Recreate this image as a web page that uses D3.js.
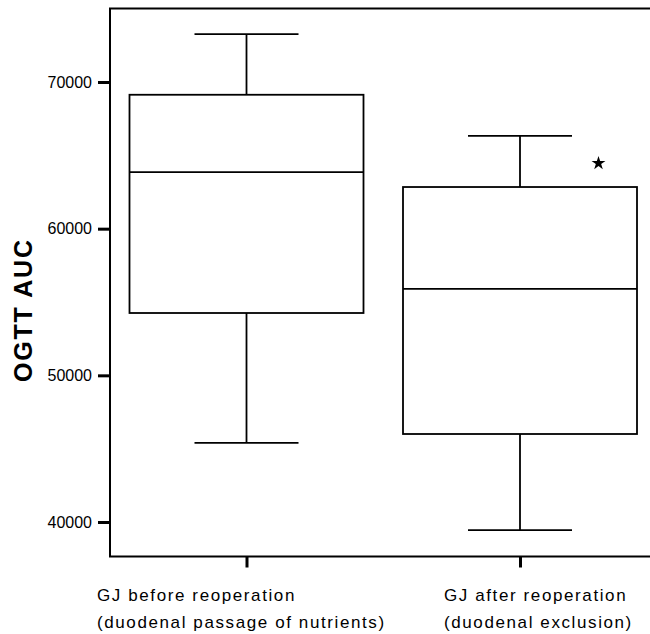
<!DOCTYPE html>
<html>
<head>
<meta charset="UTF-8">
<title>OGTT AUC boxplot</title>
<style>
  body { margin: 0; background: #fff; }
  svg { display: block; }
</style>
</head>
<body>
<script src="https://cdn.jsdelivr.net/npm/d3@7"></script>
<script>
// groups (two label lines each)
const groups = ["before", "after"];
const labelLines = [
  ["GJ before reoperation", "(duodenal passage of nutrients)"],
  ["GJ after reoperation", "(duodenal exclusion)"]
];
// box stats
const lowWhisker = [45400, 39450];
const q1 = [54250, 46000];
const median = [63860, 55890];
const q3 = [69130, 62840];
const highWhisker = [73270, 66320];
// outliers (group index, value)
const outliers = [[1, 64460]];
const yTicks = [40000, 50000, 60000, 70000];

const W = 650, H = 634;
const plotLeft = 110, plotTop = 8.5, plotBottom = 556.5;

const svg = d3.select("body").append("svg")
  .attr("width", W)
  .attr("height", H);

const y = d3.scaleLinear().domain([40000, 70000]).range([522, 82]);
const x = d3.scalePoint().domain(groups).range([246.5, 520]);
const boxW = 234, capW = 104;

// frame (open on the right)
svg.append("path")
  .attr("d", `M${W},${plotTop}H${plotLeft}V${plotBottom}H${W}`)
  .attr("fill", "none")
  .attr("stroke", "#000")
  .attr("stroke-width", 2);

// y axis
const yAxis = d3.axisLeft(y).tickValues(yTicks).tickSize(12).tickPadding(6).tickFormat(d3.format("d"));
const ga = svg.append("g").attr("transform", `translate(${plotLeft},0)`).call(yAxis);
ga.select(".domain").remove();
ga.selectAll(".tick line").attr("stroke-width", 3);
ga.selectAll(".tick text")
  .attr("font-family", "Liberation Sans, Arial, sans-serif")
  .attr("font-size", 16)
  .attr("fill", "#000");

// x axis ticks + two-line labels
const xAxis = d3.axisBottom(x).tickSize(11).tickFormat("");
const gx = svg.append("g").attr("transform", `translate(0,${plotBottom})`).call(xAxis);
gx.select(".domain").remove();
gx.selectAll(".tick line").attr("stroke-width", 3);

const labelOffset = [-149.5, -76];
const lab = svg.append("g")
  .attr("font-family", "Liberation Sans, Arial, sans-serif")
  .attr("font-size", 17)
  .attr("letter-spacing", 1.6)
  .attr("fill", "#000");
groups.forEach((g, i) => {
  labelLines[i].forEach((line, j) => {
    lab.append("text")
      .attr("x", x(g) + labelOffset[i])
      .attr("y", 601 + j * 27)
      .attr("text-anchor", "start")
      .text(line);
  });
});

// y title
svg.append("text")
  .attr("transform", "translate(32,311) rotate(-90)")
  .attr("text-anchor", "middle")
  .attr("font-family", "Liberation Sans, Arial, sans-serif")
  .attr("font-weight", "bold")
  .attr("font-size", 25)
  .attr("textLength", 142)
  .attr("lengthAdjust", "spacing")
  .attr("fill", "#000")
  .text("OGTT AUC");

// boxes
const boxes = svg.append("g")
  .attr("fill", "none")
  .attr("stroke", "#000")
  .attr("stroke-width", 1.8);

groups.forEach((g, i) => {
  const cx = x(g);
  // whiskers
  boxes.append("line").attr("x1", cx).attr("x2", cx).attr("y1", y(highWhisker[i])).attr("y2", y(q3[i]));
  boxes.append("line").attr("x1", cx).attr("x2", cx).attr("y1", y(q1[i])).attr("y2", y(lowWhisker[i]));
  boxes.append("line").attr("x1", cx - capW / 2).attr("x2", cx + capW / 2).attr("y1", y(highWhisker[i])).attr("y2", y(highWhisker[i]));
  boxes.append("line").attr("x1", cx - capW / 2).attr("x2", cx + capW / 2).attr("y1", y(lowWhisker[i])).attr("y2", y(lowWhisker[i]));
  // box
  boxes.append("rect")
    .attr("x", cx - boxW / 2)
    .attr("y", y(q3[i]))
    .attr("width", boxW)
    .attr("height", y(q1[i]) - y(q3[i]));
  boxes.append("line").attr("x1", cx - boxW / 2).attr("x2", cx + boxW / 2).attr("y1", y(median[i])).attr("y2", y(median[i]));
});

// outlier stars
svg.selectAll(".outlier")
  .data(outliers)
  .join("path")
  .attr("class", "outlier")
  .attr("d", d3.symbol(d3.symbolStar, 60))
  .attr("transform", d => `translate(${x(groups[d[0]]) + 78.5},${y(d[1])})`)
  .attr("fill", "#000");
</script>
</body>
</html>
